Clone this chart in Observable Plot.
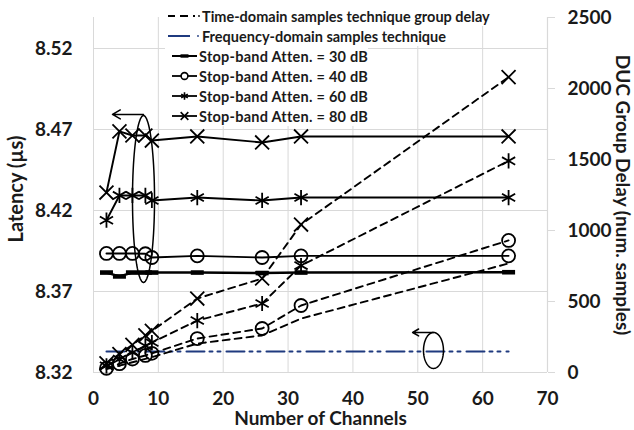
<!DOCTYPE html>
<html>
<head>
<meta charset="utf-8">
<script src="https://cdn.jsdelivr.net/npm/d3@7"></script>
<script src="https://cdn.jsdelivr.net/npm/@observablehq/plot@0.6"></script>
<style>
  html, body { margin: 0; padding: 0; background: #fff; }
  #chart { position: relative; width: 634px; height: 430px; font-family: Lato, "Open Sans", sans-serif; }
  #legend { position: absolute; left: 165px; top: 6px; font-weight: bold; font-size: 14.5px; color: #1a1a1a; }
  .row { height: 20px; display: flex; align-items: center; white-space: nowrap; }
  .row .inner { display: flex; align-items: center; background: #fff; height: 20px; }
  .row svg { flex: none; margin-left: 2px; margin-right: 1px; }
</style>
</head>
<body>
<div id="chart"></div>
<script>
// ---- data ----
const channels = [2, 4, 6, 8, 9, 16, 26, 32, 64];

// latency (µs), left axis — solid lines
const latency30 = [8.3817, 8.3793, 8.3817, 8.3817, 8.3817, 8.3817, 8.3814, 8.3817, 8.3819];
const latency40 = [8.3935, 8.3935, 8.3935, 8.3933, 8.3910, 8.3920, 8.3910, 8.3920, 8.3920];
const latency60 = [8.4140, 8.4293, 8.4293, 8.4293, 8.4262, 8.4280, 8.4262, 8.4280, 8.4280];
const latency80 = [8.4311, 8.4688, 8.4663, 8.4663, 8.4632, 8.4657, 8.4620, 8.4657, 8.4657];

// DUC group delay (num. samples), right axis — dashed lines
const groupDelay30 = [24, 48, 72, 96, 108, 204, 261, 380, 768];
const groupDelay40 = [30, 62, 95, 120, 135, 239, 310, 472, 930];
const groupDelay60 = [47, 94, 141, 188, 211, 366, 486, 753, 1490];
const groupDelay80 = [65, 130, 195, 262, 293, 521, 662, 1042, 2080];

// frequency-domain samples technique latency (µs)
const freqDomainLatency = [8.333, 8.333, 8.333, 8.333, 8.333, 8.333, 8.333, 8.333, 8.333];

const xTicks = [0, 10, 20, 30, 40, 50, 60, 70];
const leftTicks = [8.32, 8.37, 8.42, 8.47, 8.52];
const rightTicks = [0, 500, 1000, 1500, 2000, 2500];
const leftDomain = [8.32, 8.53914];
const rightDomain = [0, 2500];

const legendLabels = [
  "Time-domain samples technique group delay",
  "Frequency-domain samples technique",
  "Stop-band Atten. = 30 dB",
  "Stop-band Atten. = 40 dB",
  "Stop-band Atten. = 60 dB",
  "Stop-band Atten. = 80 dB"
];

// annotation ellipses and arrows (data units: channels, µs)
const ellipseCx = [7.71, 52.42];
const ellipseCy = [8.4271, 8.3336];
const ellipseRx = [1.70, 1.54];
const ellipseRy = [0.0515, 0.0111];
const arrowX1 = [7.71, 52.42];
const arrowX2 = [2.93, 49.2];
const arrowY = [8.4793, 8.3447];

// ---- build tables ----
const toLeft = v => leftDomain[0] + (v - rightDomain[0]) / (rightDomain[1] - rightDomain[0]) * (leftDomain[1] - leftDomain[0]);
const rows = channels.map((ch, i) => ({
  ch,
  lat30: latency30[i], lat40: latency40[i], lat60: latency60[i], lat80: latency80[i],
  gd30: toLeft(groupDelay30[i]), gd40: toLeft(groupDelay40[i]),
  gd60: toLeft(groupDelay60[i]), gd80: toLeft(groupDelay80[i]),
  freq: freqDomainLatency[i]
}));
const ellipsePts = [];
ellipseCx.forEach((cx, k) => {
  d3.range(0, 361, 4).forEach(a => {
    const t = a * Math.PI / 180;
    ellipsePts.push({k, x: cx + ellipseRx[k] * Math.cos(t), y: ellipseCy[k] + ellipseRy[k] * Math.sin(t)});
  });
});
const arrows = arrowX1.map((x1, i) => ({x1, x2: arrowX2[i], y: arrowY[i]}));

const barSymbol = {
  draw(ctx) {
    ctx.moveTo(-6.5, -2.3); ctx.lineTo(6.5, -2.3); ctx.lineTo(6.5, 2.3); ctx.lineTo(-6.5, 2.3); ctx.closePath();
  }
};

const grid = "#d9d9d9";
const ink = "#1a1a1a";
const blue = "#1f3a7f";
const dash = "7,5";
const sw = 1.9;

const plot = Plot.plot({
  width: 634,
  height: 430,
  marginLeft: 93,
  marginRight: 87,
  marginTop: 17,
  marginBottom: 58,
  x: {domain: [0, 70]},
  y: {domain: leftDomain},
  style: {fontFamily: "Lato, 'Open Sans', sans-serif", fontSize: "19px", fontWeight: "bold", color: ink, background: "#fff"},
  marks: [
    Plot.gridX({ticks: xTicks.slice(0, -1), stroke: grid, strokeOpacity: 1}),
    Plot.gridY({ticks: leftTicks.slice(1), stroke: grid, strokeOpacity: 1}),
    Plot.ruleY([leftDomain[0]], {stroke: grid, strokeWidth: 1.2}),
    Plot.ruleX([70], {stroke: grid, strokeWidth: 1.2}),
    // frequency domain
    Plot.line(rows, {x: "ch", y: "freq", stroke: blue, strokeWidth: 2, strokeDasharray: "18,5,3,5,3,6"}),
    // group delay dashed
    Plot.line(rows, {x: "ch", y: "gd30", stroke: "black", strokeWidth: sw, strokeDasharray: dash}),
    Plot.line(rows, {x: "ch", y: "gd40", stroke: "black", strokeWidth: sw, strokeDasharray: dash}),
    Plot.line(rows, {x: "ch", y: "gd60", stroke: "black", strokeWidth: sw, strokeDasharray: dash}),
    Plot.line(rows, {x: "ch", y: "gd80", stroke: "black", strokeWidth: sw, strokeDasharray: dash}),
    Plot.dot(rows, {x: "ch", y: "gd40", symbol: "circle", r: 6.5, stroke: "black", fill: "none", strokeWidth: 1.8}),
    Plot.dot(rows, {x: "ch", y: "gd60", symbol: "asterisk", r: 7.2, stroke: "black", strokeWidth: 1.8}),
    Plot.dot(rows, {x: "ch", y: "gd80", symbol: "times", r: 6.4, stroke: "black", strokeWidth: 1.8}),
    // latency solid
    Plot.line(rows, {x: "ch", y: "lat30", stroke: "black", strokeWidth: 2.4}),
    Plot.line(rows, {x: "ch", y: "lat40", stroke: "black", strokeWidth: sw}),
    Plot.line(rows, {x: "ch", y: "lat60", stroke: "black", strokeWidth: sw}),
    Plot.line(rows, {x: "ch", y: "lat80", stroke: "black", strokeWidth: sw}),
    Plot.dot(rows, {x: "ch", y: "lat30", symbol: barSymbol, fill: "black", stroke: "none"}),
    Plot.dot(rows, {x: "ch", y: "lat40", symbol: "circle", r: 6.5, stroke: "black", fill: "none", strokeWidth: 1.8}),
    Plot.dot(rows, {x: "ch", y: "lat60", symbol: "asterisk", r: 7.2, stroke: "black", strokeWidth: 1.8}),
    Plot.dot(rows, {x: "ch", y: "lat80", symbol: "times", r: 6.4, stroke: "black", strokeWidth: 1.8}),
    // annotations
    Plot.line(ellipsePts, {x: "x", y: "y", z: "k", stroke: "black", strokeWidth: 1.5, curve: "linear"}),
    Plot.arrow(arrows, {x1: "x1", x2: "x2", y1: "y", y2: "y", stroke: "black", strokeWidth: 1.5, headLength: 9, bend: 0}),
    // axes
    Plot.axisX({ticks: xTicks, tickSize: 0, tickPadding: 19, label: null, fill: ink}),
    Plot.axisY({anchor: "left", ticks: leftTicks, tickFormat: d => d.toFixed(2), tickSize: 0, tickPadding: 21, label: null, fill: ink}),
    Plot.axisY({anchor: "right", ticks: rightTicks.map(toLeft), tickFormat: (d, i) => String(rightTicks[i]), tickSize: 7, tickPadding: 13, label: null, stroke: grid, fill: ink}),
    Plot.text(["Number of Channels"], {frameAnchor: "bottom", textAnchor: "middle", lineAnchor: "middle", dy: 46, fill: ink, fontWeight: "bold", fontSize: 19}),
    Plot.text(["Latency (µs)"], {frameAnchor: "left", textAnchor: "middle", lineAnchor: "middle", rotate: -90, dx: -77, dy: -6, fill: ink, fontWeight: "bold", fontSize: 20}),
    Plot.text(["DUC Group Delay (num. samples)"], {frameAnchor: "right", textAnchor: "middle", lineAnchor: "middle", rotate: 90, dx: 75, dy: 0, fill: ink, fontWeight: "bold", fontSize: 19})
  ]
});

const chart = document.getElementById("chart");
chart.appendChild(plot);

// legend overlay
const legend = document.createElement("div");
legend.id = "legend";
const sym = (type, size) => d3.symbol().type(type).size(size)();
const swatches = [
  `<path d="M1,10H8M13,10H21M26,10H28" stroke="#000" stroke-width="2"/><circle cx="32" cy="10" r="0.9" fill="#000"/>`,
  `<path d="M1,10H23" stroke="${blue}" stroke-width="2"/><circle cx="31" cy="10" r="0.9" fill="${blue}"/>`,
  `<path d="M5,10H30" stroke="#000" stroke-width="2"/><rect x="13.5" y="8.3" width="8" height="3.4" fill="#000"/>`,
  `<path d="M5,10H30" stroke="#000" stroke-width="1.8"/><circle cx="17.5" cy="10" r="3.4" fill="#fff" stroke="#000" stroke-width="1.6"/>`,
  `<path d="M5,10H30" stroke="#000" stroke-width="1.8"/><path transform="translate(17.5,10)" d="${sym(d3.symbolAsterisk, 40)}" stroke="#000" stroke-width="1.6" fill="none"/>`,
  `<path d="M5,10H30" stroke="#000" stroke-width="1.8"/><path transform="translate(17.5,10)" d="${sym(d3.symbolTimes, 40)}" stroke="#000" stroke-width="1.6" fill="none"/>`
];
const spacing = ["0px", "0px", "0.25px", "0.25px", "0.25px", "0.25px"];
legendLabels.forEach((label, i) => {
  const row = document.createElement("div");
  row.className = "row";
  row.innerHTML = `<div class="inner"><svg width="${i < 2 ? 34 : 31}" height="20">${swatches[i]}</svg><span style="letter-spacing:${spacing[i]}">${label}</span></div>`;
  legend.appendChild(row);
});
chart.appendChild(legend);
</script>
</body>
</html>
